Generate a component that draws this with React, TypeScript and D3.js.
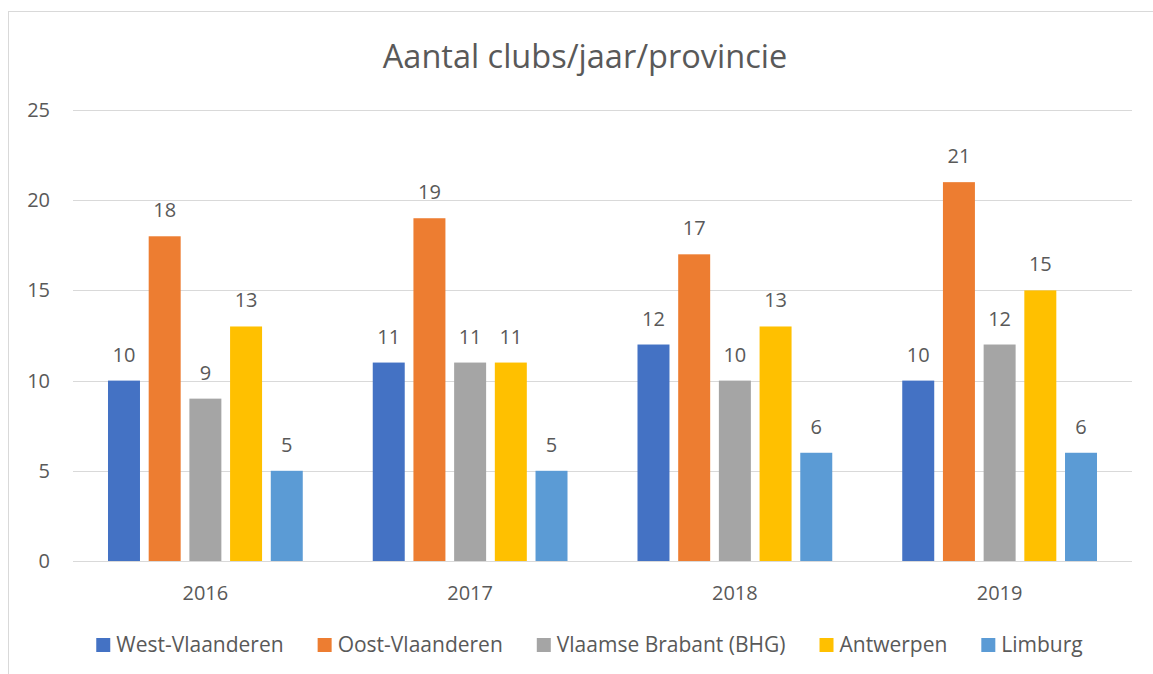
import { useEffect, useRef } from 'react';
import * as d3 from 'd3';

// Chart data
const years = ['2016', '2017', '2018', '2019'];
const provinces = ['West-Vlaanderen', 'Oost-Vlaanderen', 'Vlaamse Brabant (BHG)', 'Antwerpen', 'Limburg'];
const westVlaanderen = [10, 11, 12, 10];
const oostVlaanderen = [18, 19, 17, 21];
const vlaamsBrabant = [9, 11, 10, 12];
const antwerpen = [13, 11, 13, 15];
const limburg = [5, 5, 6, 6];
const yTicks = [0, 5, 10, 15, 20, 25];
const colors = ['#4472C4', '#ED7D31', '#A5A5A5', '#FFC000', '#5B9BD5'];

const WIDTH = 1153;
const HEIGHT = 674;
const FONT = '"Open Sans", sans-serif';
const TEXT = '#595959';

export default function App() {
  const svgRef = useRef<SVGSVGElement>(null);

  useEffect(() => {
    if (!svgRef.current) return;
    const svg = d3.select(svgRef.current);
    svg.selectAll('*').remove();

    const seriesValues = [westVlaanderen, oostVlaanderen, vlaamsBrabant, antwerpen, limburg];
    const margin = { left: 73, right: 21, top: 110, bottom: 113 };
    const innerWidth = WIDTH - margin.left - margin.right;
    const innerHeight = HEIGHT - margin.top - margin.bottom;

    // chart frame
    svg.append('rect')
      .attr('x', 8.5).attr('y', 11.5)
      .attr('width', WIDTH).attr('height', HEIGHT)
      .attr('fill', 'white')
      .attr('stroke', '#D9D9D9');

    svg.append('text')
      .attr('x', 585).attr('y', 68)
      .attr('text-anchor', 'middle')
      .style('font-family', FONT)
      .style('font-size', '32.5px')
      .style('fill', TEXT)
      .text('Aantal clubs/jaar/provincie');

    const g = svg.append('g').attr('transform', `translate(${margin.left},${margin.top})`);

    const x0 = d3.scaleBand().domain(years).range([0, innerWidth]).padding(0);
    const x1 = d3.scaleBand()
      .domain(provinces)
      .range([0, x0.bandwidth()])
      .paddingInner(0.214)
      .paddingOuter(0.86);
    const y = d3.scaleLinear().domain([0, 25]).range([innerHeight, 0]);

    // gridlines
    g.selectAll('.grid')
      .data(yTicks)
      .join('line')
      .attr('x1', 0).attr('x2', innerWidth)
      .attr('y1', d => Math.round(y(d)) + 0.5)
      .attr('y2', d => Math.round(y(d)) + 0.5)
      .attr('stroke', '#D9D9D9')
      .attr('stroke-width', 1);

    g.selectAll('.ytick')
      .data(yTicks)
      .join('text')
      .attr('x', -23)
      .attr('y', d => y(d) + 7)
      .attr('text-anchor', 'end')
      .style('font-family', FONT)
      .style('font-size', '20px')
      .style('fill', TEXT)
      .text(d => d);

    g.selectAll('.xtick')
      .data(years)
      .join('text')
      .attr('x', d => (x0(d) ?? 0) + x0.bandwidth() / 2)
      .attr('y', innerHeight + 39)
      .attr('text-anchor', 'middle')
      .style('font-family', FONT)
      .style('font-size', '20px')
      .style('fill', TEXT)
      .text(d => d);

    // bars + labels
    provinces.forEach((p, si) => {
      const vals = seriesValues[si];
      const rows = years.map((yr, i) => ({ yr, v: vals[i] }));
      g.selectAll(`.bar-${si}`)
        .data(rows)
        .join('rect')
        .attr('x', d => (x0(d.yr) ?? 0) + (x1(p) ?? 0))
        .attr('y', d => y(d.v))
        .attr('width', x1.bandwidth())
        .attr('height', d => innerHeight - y(d.v))
        .attr('fill', colors[si]);

      g.selectAll(`.lbl-${si}`)
        .data(rows)
        .join('text')
        .attr('x', d => (x0(d.yr) ?? 0) + (x1(p) ?? 0) + x1.bandwidth() / 2)
        .attr('y', d => y(d.v) - 19)
        .attr('text-anchor', 'middle')
        .style('font-family', FONT)
        .style('font-size', '20px')
        .style('fill', TEXT)
        .text(d => d.v);
    });

    // legend, measured then centered
    const legend = svg.append('g');
    const items = provinces.map((p, i) => {
      const item = legend.append('g');
      item.append('rect')
        .attr('width', 14).attr('height', 14)
        .attr('y', -14)
        .attr('fill', colors[i]);
      const t = item.append('text')
        .attr('x', 20).attr('y', 0)
        .style('font-family', FONT)
        .style('font-size', '21px')
        .style('fill', TEXT)
        .text(p);
      const w = 20 + (t.node() as SVGTextElement).getComputedTextLength();
      return { item, w };
    });
    const gap = 34;
    const total = d3.sum(items, d => d.w) + gap * (items.length - 1);
    let cx = 589.5 - total / 2;
    items.forEach(({ item, w }) => {
      item.attr('transform', `translate(${cx},652)`);
      cx += w + gap;
    });
  }, []);

  return (
    <svg
      ref={svgRef}
      width={WIDTH}
      height={HEIGHT}
      style={{ position: 'absolute', left: 0, top: 0, background: 'white' }}
    />
  );
}
